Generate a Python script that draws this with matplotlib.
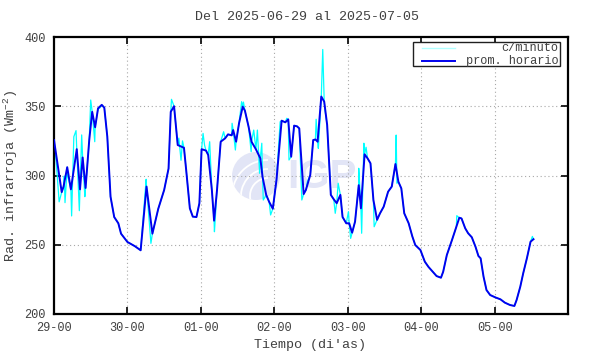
import matplotlib
matplotlib.use("Agg")
import matplotlib.pyplot as plt
import numpy as np
from matplotlib.patches import Ellipse, Arc, Rectangle
from matplotlib.lines import Line2D

plt.rcParams.update(
    {
        "font.family": ["Liberation Mono", "DejaVu Sans Mono"],
        "mathtext.fontset": "custom",
        "mathtext.rm": "Liberation Mono",
        "mathtext.it": "Liberation Mono",
        "figure.dpi": 100,
    }
)

# hourly mean (days since 2025-06-29 00:00, W m-2)
hour_t = [0.00, 0.105, 0.13, 0.18, 0.23, 0.31, 0.354, 0.39, 0.43, 0.48, 0.52,
          0.56, 0.60, 0.65, 0.685, 0.726, 0.77, 0.82, 0.876, 0.913, 1.00, 1.10,
          1.18, 1.26, 1.34, 1.42, 1.50, 1.56, 1.59, 1.635, 1.685, 1.77, 1.80,
          1.85, 1.89, 1.94, 1.98, 2.01, 2.07, 2.10, 2.15, 2.18, 2.22, 2.27,
          2.33, 2.37, 2.42, 2.44, 2.48, 2.52, 2.57, 2.60, 2.65, 2.69, 2.75,
          2.81, 2.84, 2.89, 2.93, 2.98, 3.03, 3.10, 3.15, 3.19, 3.23, 3.27,
          3.31, 3.34, 3.40, 3.43, 3.49, 3.53, 3.56, 3.59, 3.64, 3.68, 3.72,
          3.77, 3.81, 3.85, 3.90, 3.93, 3.98, 4.02, 4.06, 4.10, 4.15, 4.18,
          4.23, 4.27, 4.31, 4.35, 4.40, 4.44, 4.49, 4.55, 4.60, 4.65, 4.69,
          4.73, 4.77, 4.83, 4.88, 4.92, 4.99, 5.05, 5.10, 5.17, 5.21, 5.27,
          5.30, 5.35, 5.42, 5.48, 5.52, 5.55, 5.60, 5.64, 5.69, 5.74, 5.78,
          5.81, 5.85, 5.89, 5.94, 6.01, 6.08, 6.14, 6.21, 6.27, 6.30, 6.35,
          6.39, 6.44, 6.49, 6.53]
hour_v = [325.6, 288.0, 292.0, 306.0, 290.0, 319.0, 290.0, 313.0, 291.0, 325.6,
          346.0, 334.8, 348.5, 351.0, 349.0, 328.0, 284.7, 270.0, 265.5, 258.0,
          252.0, 249.0, 246.0, 292.0, 258.0, 276.0, 289.5, 305.0, 346.0, 350.0,
          322.0, 320.0, 304.0, 276.3, 270.3, 270.0, 280.0, 319.0, 318.0, 314.8,
          289.5, 267.4, 289.5, 324.4, 326.8, 329.7, 329.0, 332.8, 324.4, 337.7,
          349.7, 346.8, 335.2, 324.4, 318.9, 312.4, 299.0, 286.0, 281.0, 276.0,
          296.8, 339.6, 338.4, 340.5, 313.6, 336.0, 335.5, 334.0, 286.6, 289.5,
          300.4, 325.6, 326.0, 324.4, 357.0, 353.3, 336.5, 286.0, 282.8, 280.0,
          286.0, 270.0, 265.5, 265.5, 258.7, 266.7, 293.0, 276.3, 315.3, 312.4,
          308.8, 282.3, 268.0, 272.7, 277.5, 288.3, 292.0, 308.3, 295.5, 290.7,
          272.7, 265.5, 256.0, 249.8, 246.2, 237.8, 234.0, 229.8, 227.4, 226.2,
          230.5, 242.6, 253.4, 263.0, 269.5, 269.0, 261.9, 258.3, 255.4, 248.6,
          241.9, 240.2, 226.9, 217.3, 213.7, 212.0, 210.6, 208.2, 206.5, 205.8,
          210.1, 219.7, 229.4, 240.2, 252.2, 254.0]

# extra per-minute excursions
spike_t = [0.03, 0.07, 0.14, 0.15, 0.19, 0.24, 0.27, 0.30, 0.345, 0.377, 0.42,
           0.50, 0.555, 0.62, 1.255, 1.32, 1.60, 1.70, 1.73, 1.75, 2.03, 2.05,
           2.12, 2.185, 2.31, 2.425, 2.47, 2.555, 2.58, 2.685, 2.72, 2.77, 2.80,
           2.83, 2.85, 2.95, 3.08, 3.17, 3.20, 3.375, 3.45, 3.535, 3.57, 3.60,
           3.66, 3.69, 3.83, 3.87, 4.01, 4.04, 4.15, 4.19, 4.22, 4.25, 4.36,
           4.66, 4.67, 5.485, 6.515]
spike_v = [310.0, 281.0, 299.6, 280.4, 299.0, 270.8, 328.0, 332.4, 274.6, 329.3,
           284.7, 354.5, 324.4, 348.5, 297.3, 251.0, 355.0, 327.0, 311.0, 325.0,
           330.4, 322.0, 324.4, 259.4, 331.6, 337.7, 318.4, 353.3, 353.0, 317.2,
           332.8, 332.8, 301.6, 323.3, 282.3, 271.5, 338.8, 341.3, 311.2, 282.3,
           295.5, 325.6, 340.6, 319.6, 391.0, 347.3, 272.7, 294.4, 273.9, 254.6,
           305.2, 258.3, 323.3, 320.4, 263.0, 329.2, 294.4, 271.0, 256.0]

xtick_days = [0, 1, 2, 3, 4, 5, 6]
xtick_labels = ["29-00", "30-00", "01-00", "02-00", "03-00", "04-00", "05-00"]
ytick_vals = [200, 250, 300, 350, 400]

TXT = "#404040"
WM = "#e2e5f6"

minute_t = np.concatenate([hour_t, spike_t])
minute_v = np.concatenate([hour_v, spike_v])
order = np.argsort(minute_t, kind="stable")
minute_t = minute_t[order]
minute_v = minute_v[order]

fig = plt.figure(figsize=(5.9, 3.54))
AX_W, AX_H = 514, 277
ax = fig.add_axes([54 / 590, 1 - 314 / 354, AX_W / 590, AX_H / 354])

# watermark logo (sizes in pixels converted to axes fraction)
cx, cy, r = (256 - 54) / AX_W, 1 - (176 - 37) / AX_H, 24
disc = Ellipse((cx, cy), 2 * r / AX_W, 2 * r / AX_H, transform=ax.transAxes,
               facecolor=WM, edgecolor="none", zorder=0.5)
ax.add_patch(disc)
for rr in [18, 27, 36]:
    arc = Arc((cx + 12 / AX_W, cy - 20 / AX_H), 2 * rr / AX_W, 2 * rr / AX_H,
              theta1=90, theta2=200, transform=ax.transAxes,
              color="white", lw=1.3, zorder=0.6)
    ax.add_patch(arc)
    arc.set_clip_path(disc)
ax.text(0.521, 0.496, "IGP", transform=ax.transAxes, ha="center", va="center",
        fontsize=29, fontweight="bold", family="Liberation Sans",
        color=WM, zorder=0.5)

ax.plot(minute_t, minute_v, color="#00ffff", lw=0.9, zorder=2)
ax.plot(hour_t, hour_v, color="#0000ee", lw=1.4, zorder=3)

ax.set_xlim(0, 7)
ax.set_ylim(200, 400)
ax.set_xticks(xtick_days)
ax.set_xticklabels(xtick_labels)
ax.set_yticks(ytick_vals)
ax.tick_params(direction="in", length=5, width=1.2, top=True, right=True,
               labelsize=8.6, labelcolor=TXT, pad=6)
for s in ax.spines.values():
    s.set_linewidth(1.6)

for d in xtick_days[1:]:
    ax.axvline(d, color="#a8a8a8", lw=0.8, ls=(0, (1, 2.5)), zorder=1)
for v in ytick_vals[1:-1]:
    ax.axhline(v, color="#a8a8a8", lw=0.8, ls=(0, (1, 2.5)), zorder=1)

# legend, gnuplot style
ax.add_patch(Rectangle((0.698, 0.895), 0.286, 0.088, transform=ax.transAxes,
                       facecolor="white", edgecolor="#202020", lw=1.0, zorder=4))
ax.add_line(Line2D([0.715, 0.780], [0.961, 0.961], transform=ax.transAxes,
                   color="#b0ffff", lw=1.0, zorder=5))
ax.add_line(Line2D([0.715, 0.780], [0.914, 0.914], transform=ax.transAxes,
                   color="#0000ee", lw=1.4, zorder=5))
ax.text(0.981, 0.961, "c/minuto", transform=ax.transAxes, ha="right",
        va="center", fontsize=8.6, color=TXT, zorder=5)
ax.text(0.981, 0.914, "prom. horario", transform=ax.transAxes, ha="right",
        va="center", fontsize=8.6, color=TXT, zorder=5)

fig.text(0.52, 1 - 17 / 354, "Del 2025-06-29 al 2025-07-05", ha="center",
         va="center", fontsize=9.6, color=TXT)
fig.text(0.525, 1 - 345 / 354, "Tiempo (di'as)", ha="center", va="center",
         fontsize=9.6, color=TXT)
fig.text(11 / 590, 1 - 176 / 354, "Rad. infrarroja (Wm$^{-2}$)", rotation=90,
         ha="center", va="center", fontsize=9.6, color=TXT)

fig.savefig("out.png", dpi=100)
